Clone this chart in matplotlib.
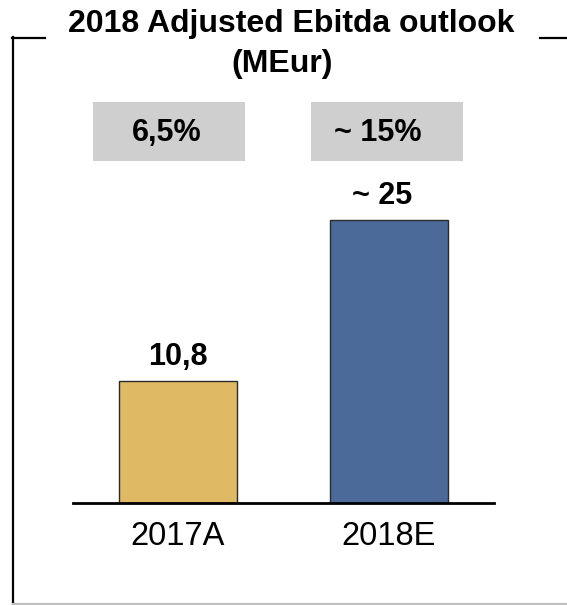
import matplotlib
matplotlib.use("Agg")
import matplotlib.pyplot as plt
from matplotlib.lines import Line2D
from matplotlib.patches import Rectangle

# ---- data ----
categories = ["2017A", "2018E"]
values = [10.8, 25]
value_labels = ["10,8", "~ 25"]
margin_labels = ["6,5%", "~ 15%"]
title_line1 = "2018 Adjusted Ebitda outlook"
title_line2 = "(MEur)"

bar_colors = ["#E0B964", "#4B6A99"]
box_color = "#D0CFD0"

plt.rcParams['font.family'] = ['Liberation Sans', 'DejaVu Sans']

W, H = 567, 605
fig = plt.figure(figsize=(W / 100, H / 100), dpi=100)


def fx(px):
    return px / W


def fy(py):
    return 1 - py / H


# axes: baseline at y=503px, top at 102px; x from 73 to 494px
ax = fig.add_axes([fx(73), fy(503), fx(494) - fx(73), fy(102) - fy(503)])
px_per_unit = 11.32
ax.set_ylim(0, (503 - 102) / px_per_unit)
ax.set_xlim((73 - 178) / 211, (494 - 178) / 211)

x = list(range(len(categories)))
ax.bar(x, values, width=118 / 211, color=bar_colors, edgecolor="#2b2b2b",
       linewidth=1.0, zorder=2)

for i, (v, lab) in enumerate(zip(values, value_labels)):
    dx = 0 if i == 0 else -5
    ax.annotate(lab, (i, v), xytext=(dx, 17), textcoords="offset points",
                ha="center", va="center", fontsize=22, fontweight="bold")

ax.set_xticks(x)
ax.set_xticklabels(categories, fontsize=23.5)
ax.tick_params(axis="x", length=0, pad=13)
ax.set_yticks([])
for s in ["top", "left", "right"]:
    ax.spines[s].set_visible(False)
ax.spines["bottom"].set_linewidth(2.0)
ax.spines["bottom"].set_color("black")
ax.set_facecolor("none")

# grey margin boxes above bars
box_left_px = [93, 311]
box_text_px = [167, 378]
for i, lab in enumerate(margin_labels):
    fig.add_artist(Rectangle((fx(box_left_px[i]), fy(161)), 152 / W, 59 / H,
                             transform=fig.transFigure, facecolor=box_color,
                             edgecolor="none"))
    fig.text(fx(box_text_px[i]), fy(133), lab, ha="center", va="center",
             fontsize=22, fontweight="bold")

# title
fig.text(fx(291), fy(24), title_line1, ha="center", va="center",
         fontsize=23, fontweight="bold")
fig.text(fx(282), fy(64), title_line2, ha="center", va="center",
         fontsize=23, fontweight="bold")

# frame lines
lw = 1.6
fig.add_artist(Line2D([fx(12.5), fx(12.5)], [fy(37), fy(605)], color="black",
                      lw=lw, transform=fig.transFigure))
fig.add_artist(Line2D([fx(12), fx(45)], [fy(37.5), fy(37.5)], color="black",
                      lw=lw, transform=fig.transFigure))
fig.add_artist(Line2D([fx(540), fx(567)], [fy(37.5), fy(37.5)], color="black",
                      lw=lw, transform=fig.transFigure))
fig.add_artist(Line2D([fx(13), fx(567)], [fy(603.5), fy(603.5)], color="#BFBFBF",
                      lw=lw, transform=fig.transFigure))

fig.savefig("out.png", dpi=100, facecolor="white")
